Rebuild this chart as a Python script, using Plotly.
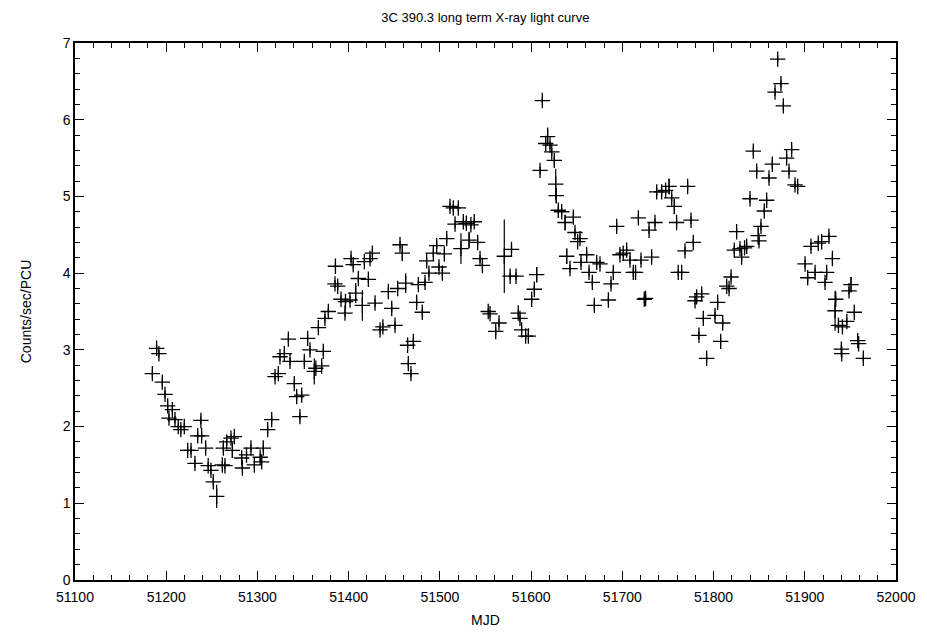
import plotly.graph_objects as go

mjd = [
    51184.8, 51189.5, 51192.0, 51195.7, 51198.7, 51201.6, 51203.0, 51206.7, 51209.6, 51213.2,
    51216.0, 51219.8, 51223.5, 51227.2, 51231.5, 51234.5, 51238.0, 51238.8, 51243.2, 51246.0,
    51249.0, 51251.6, 51255.3, 51261.5, 51262.6, 51264.4, 51266.3, 51271.0, 51272.5, 51274.7,
    51282.7, 51283.5, 51288.0, 51292.9, 51296.6, 51303.0, 51304.6, 51306.4, 51311.2, 51315.6,
    51319.3, 51322.9, 51324.7, 51329.5, 51333.9, 51335.7, 51340.4, 51343.0, 51346.6, 51348.5,
    51351.4, 51355.0, 51357.6, 51362.3, 51364.0, 51366.8, 51370.4, 51372.2, 51374.0, 51377.7,
    51385.0, 51385.5, 51388.0, 51391.6, 51396.0, 51396.5, 51401.5, 51402.6, 51405.0, 51407.7,
    51410.6, 51415.0, 51417.2, 51421.6, 51423.4, 51426.0, 51428.9, 51434.4,
    51437.5, 51443.5, 51447.2, 51450.8, 51453.7, 51456.3, 51458.8, 51462.5, 51464.6, 51465.4,
    51468.3, 51470.9, 51474.5, 51476.4, 51480.7, 51483.7, 51485.5, 51488.0, 51492.8, 51496.5,
    51499.0, 51502.7, 51504.9, 51507.5, 51511.1, 51514.7, 51516.6, 51520.2, 51523.1, 51525.7,
    51529.0, 51532.0, 51534.0, 51537.7, 51541.4, 51544.0, 51546.6, 51553.0, 51555.0, 51561.2,
    51564.8, 51570.6,
    51577.0, 51578.5, 51583.5, 51585.9, 51587.8, 51589.6, 51594.0, 51597.0, 51600.6, 51603.5,
    51606.1, 51609.8, 51612.3, 51616.0, 51618.1, 51620.7, 51622.6, 51625.4, 51627.0, 51627.5,
    51629.8, 51633.5, 51637.2, 51639.0, 51642.6, 51646.3, 51648.1, 51651.0, 51653.6, 51654.7,
    51660.9, 51663.5, 51667.1, 51669.3, 51671.9, 51675.5, 51684.7, 51687.6, 51690.1, 51693.8,
    51697.4, 51701.0,
    51704.7, 51708.4, 51712.0, 51714.5, 51717.6, 51720.5, 51724.1, 51725.5, 51729.3, 51732.1,
    51735.8, 51737.7, 51743.1, 51747.5, 51751.2, 51754.1, 51757.0, 51759.5, 51761.3, 51765.0,
    51768.7, 51771.6, 51775.3, 51777.8, 51779.7, 51781.5, 51784.0, 51787.0, 51788.8, 51792.4,
    51801.6, 51804.5, 51807.8, 51810.0, 51814.4, 51817.0, 51819.2, 51822.7, 51825.3, 51829.0,
    51830.8, 51834.0,
    51836.3, 51840.0, 51843.6, 51847.3, 51849.0, 51849.8, 51852.0, 51855.6, 51858.2, 51860.8,
    51864.4, 51867.4, 51870.3, 51873.9, 51876.5, 51880.1, 51882.7, 51885.6, 51889.3, 51892.2,
    51900.3, 51903.2, 51906.8, 51911.3, 51914.8, 51918.5, 51922.2, 51924.0, 51926.5, 51930.3,
    51933.2, 51933.9, 51936.9, 51940.1, 51940.5, 51941.3, 51946.1, 51948.5, 51950.7, 51954.3,
    51958.0, 51959.0, 51964.2,
]

rate = [
    2.69, 3.02, 2.95, 2.58, 2.42, 2.27, 2.11, 2.22, 2.09, 2.00,
    1.96, 2.00, 1.69, 1.69, 1.52, 1.88, 2.08, 1.88, 1.72, 1.49,
    1.43, 1.28, 1.09, 1.50, 1.72, 1.49, 1.80, 1.85, 1.69, 1.87,
    1.59, 1.46, 1.63, 1.72, 1.50, 1.60, 1.54, 1.72, 1.96, 2.09,
    2.65, 2.69, 2.91, 2.95, 3.14, 2.85, 2.56, 2.39, 2.13, 2.41,
    2.85, 3.15, 3.00, 2.72, 2.76, 3.29, 2.79, 2.98, 3.41, 3.50,
    3.86, 4.09, 3.83, 3.66, 3.48, 3.63, 3.65, 4.19, 4.11, 3.74,
    3.93, 3.58, 4.15, 3.92, 4.19, 4.26, 3.61, 3.26,
    3.30, 3.76, 3.54, 3.32, 3.80, 4.37, 4.26, 3.87, 3.06, 2.82,
    2.69, 3.11, 3.62, 3.85, 3.49, 3.88, 4.16, 4.00, 4.26, 4.36,
    4.08, 4.00, 4.25, 4.45, 4.87, 4.85, 4.64, 4.85, 4.32, 4.67,
    4.65, 4.43, 4.63, 4.67, 4.40, 4.19, 4.10, 3.50, 3.47, 3.24,
    3.35, 4.22,
    3.96, 4.31, 3.96, 3.48, 3.41, 3.26, 3.18, 3.18, 3.66, 3.79,
    3.98, 5.34, 6.25, 5.69, 5.78, 5.67, 5.58, 5.47, 5.16, 5.01,
    4.82, 4.80, 4.66, 4.22, 4.06, 4.73, 4.53, 4.41, 4.45, 4.14,
    4.24, 4.01, 3.88, 3.58, 4.14, 4.12, 3.65, 3.86, 4.01, 4.61,
    4.24, 4.26,
    4.30, 4.17, 4.01, 4.01, 4.72, 4.17, 3.66, 3.67, 4.56, 4.21,
    4.66, 5.06, 5.06, 5.08, 5.13, 4.98, 4.87, 4.66, 4.01, 4.01,
    4.29, 5.13, 4.69, 4.40, 3.64, 3.69, 3.19, 3.73, 3.41, 2.89,
    3.45, 3.62, 3.11, 3.35, 3.83, 3.80, 3.95, 4.30, 4.54, 4.32,
    4.21, 4.33,
    4.35, 4.97, 5.59, 5.33, 4.49, 4.42, 4.61, 4.81, 4.95, 5.24,
    5.42, 6.36, 6.79, 6.47, 6.18, 5.50, 5.33, 5.61, 5.15, 5.13,
    4.12, 3.94, 4.35, 4.01, 4.39, 4.41, 3.88, 4.01, 4.48, 4.19,
    3.51, 3.66, 3.32, 3.01, 2.95, 3.30, 3.37, 3.77, 3.85, 3.49,
    3.12, 3.08, 2.89,
]

# y errors (only the notably large ones differ from the default)
err_default = 0.05
err_big = {
    51255.3: 0.15, 51272.5: 0.10, 51362.3: 0.17, 51407.7: 0.13, 51415.0: 0.20,
    51458.8: 0.10, 51462.5: 0.13, 51523.1: 0.20, 51532.0: 0.11, 51570.6: 0.48,
    51606.1: 0.10, 51618.1: 0.12, 51627.0: 0.20, 51627.5: 0.10, 51637.2: 0.10,
    51639.0: 0.10, 51751.2: 0.10, 51757.0: 0.10, 51849.0: 0.12, 51933.2: 0.26,
    51950.7: 0.10,
}
rate_err = [err_big.get(m, err_default) for m in mjd]

x_ticks = [51100, 51200, 51300, 51400, 51500, 51600, 51700, 51800, 51900, 52000]
y_ticks = [0, 1, 2, 3, 4, 5, 6, 7]

fig = go.Figure()
fig.add_trace(go.Scatter(
    x=mjd, y=rate, mode="markers",
    marker=dict(symbol="cross-thin", size=11, color="black",
                line=dict(color="black", width=1.3)),
    error_y=dict(type="data", array=rate_err, visible=True,
                 color="black", thickness=1.2, width=0),
    showlegend=False,
))

font_family = "Liberation Sans, Arial, sans-serif"
axis_common = dict(
    showgrid=False, zeroline=False, showline=True, linecolor="black", linewidth=1.5,
    mirror="allticks", ticks="inside", ticklen=9, tickwidth=1.2, tickcolor="black",
    tickfont=dict(family=font_family, size=14, color="black"),
)

fig.update_layout(
    width=927, height=637,
    margin=dict(l=75, r=31, t=43, b=57),
    paper_bgcolor="white", plot_bgcolor="white",
    title=dict(text="3C 390.3 long term X-ray light curve", x=0.5236, xanchor="center",
               y=0.98, yanchor="top",
               font=dict(family=font_family, size=13, color="black")),
    font=dict(family=font_family, color="black"),
)
fig.update_xaxes(
    range=[51100, 52000], tickvals=x_ticks, ticktext=[str(v) for v in x_ticks],
    title=dict(text="MJD", font=dict(family=font_family, size=14, color="black"), standoff=12),
    minor=dict(dtick=20, ticks="inside", ticklen=5, tickwidth=1, tickcolor="black"),
    ticklabelstandoff=3,
    **axis_common,
)
fig.update_yaxes(
    range=[0, 7], tickvals=y_ticks, ticktext=[str(v) for v in y_ticks],
    title=dict(text="Counts/sec/PCU", font=dict(family=font_family, size=14, color="black"), standoff=28),
    minor=dict(dtick=0.2, ticks="inside", ticklen=5, tickwidth=1, tickcolor="black"),
    **axis_common,
)

fig.write_html("out.html")
